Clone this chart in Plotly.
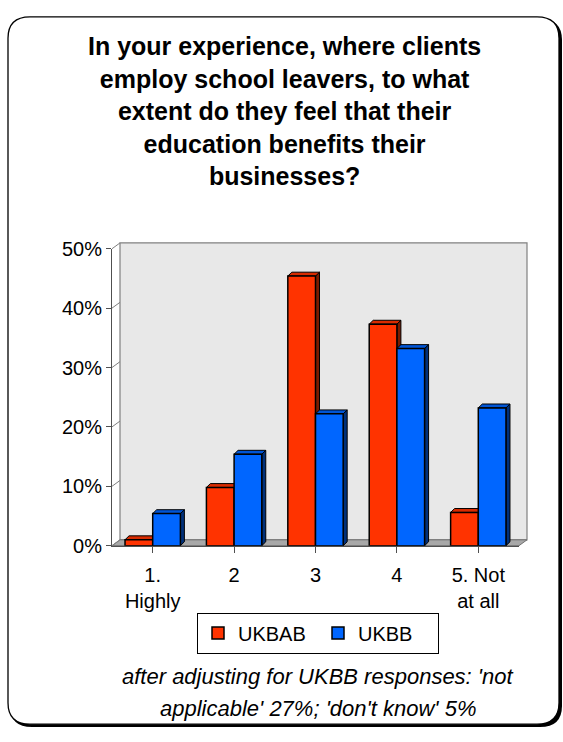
import plotly.graph_objects as go

# ---- data -------------------------------------------------------------
categories = ["1.<br>Highly", "2", "3", "4", "5. Not<br>at all"]
series_names = ["UKBAB", "UKBB"]
ukbab = [1.0, 9.8, 45.4, 37.3, 5.6]
ukbb = [5.4, 15.4, 22.2, 33.2, 23.2]
y_ticks = [0, 10, 20, 30, 40, 50]
y_tick_labels = ["0%", "10%", "20%", "30%", "40%", "50%"]

title_lines = [
    "In your experience, where clients",
    "employ school leavers, to what",
    "extent do they feel that their",
    "education benefits their",
    "businesses?",
]
note_lines = [
    "after adjusting for UKBB responses: 'not",
    "applicable' 27%; 'don't know' 5%",
]

# ---- geometry / style -----------------------------------------------
W, H = 563, 742
FONT = "Arial, Liberation Sans, sans-serif"

front_x = (112, 519)   # px, front plane of the plot box
front_y = (551, 245)   # px for 0 % and 50 %
depth = (8, -6)        # offset of the back wall
bar_depth = 4          # px depth of each bar
bar_w = 0.34           # bar width in category units

colors = {
    "UKBAB": ("#FF3300", "#D92B00", "#7A1C00"),   # front, top, side
    "UKBB": ("#0066FF", "#0055D6", "#00307A"),
}


def fx(px):
    return px / W


def fy(py):
    return 1 - py / H


back_x = (front_x[0] + depth[0], front_x[1] + depth[0])
back_y = (front_y[0] + depth[1], front_y[1] + depth[1])
px_per_unit_y = (front_y[0] - front_y[1]) / 50
px_per_cat = (front_x[1] - front_x[0]) / len(categories)
DX = bar_depth / px_per_cat
DY = bar_depth / px_per_unit_y

fig = go.Figure()

# 3D faces (top and right side) of the bars, drawn behind the front faces
for name, vals, off in [("UKBAB", ukbab, -bar_w), ("UKBB", ukbb, 0.0)]:
    front_c, top_c, side_c = colors[name]
    sx, sy, tx, ty = [], [], [], []
    for i, v in enumerate(vals):
        xl = i + off
        xr = xl + bar_w
        sx += [xr, xr + DX, xr + DX, xr, xr, None]
        sy += [0, DY, v + DY, v, 0, None]
        tx += [xl, xr, xr + DX, xl + DX, xl, None]
        ty += [v, v, v + DY, v + DY, v, None]
    for px_, py_, c in [(sx, sy, side_c), (tx, ty, top_c)]:
        fig.add_trace(go.Scatter(
            x=px_, y=py_, fill="toself", fillcolor=c, mode="lines",
            line=dict(color="black", width=1), showlegend=False,
            hoverinfo="skip", xaxis="x2", yaxis="y2",
        ))

# front faces of the bars
for name, vals, off in [("UKBAB", ukbab, -bar_w), ("UKBB", ukbb, 0.0)]:
    fig.add_trace(go.Bar(
        x=list(range(len(categories))), y=vals, name=name,
        width=bar_w, offset=off,
        marker=dict(color=colors[name][0], line=dict(color="black", width=1.5)),
        xaxis="x3", yaxis="y3",
    ))

# ---- decorative shapes: frame, wall, floor ---------------------------
def rounded_rect(x0, y0, x1, y1, r):
    p = lambda x, y: f"{fx(x):.5f},{fy(y):.5f}"
    return (f"M{p(x0 + r, y0)} L{p(x1 - r, y0)} Q{p(x1, y0)} {p(x1, y0 + r)} "
            f"L{p(x1, y1 - r)} Q{p(x1, y1)} {p(x1 - r, y1)} "
            f"L{p(x0 + r, y1)} Q{p(x0, y1)} {p(x0, y1 - r)} "
            f"L{p(x0, y0 + r)} Q{p(x0, y0)} {p(x0 + r, y0)} Z")


shapes = [
    dict(type="path", xref="paper", yref="paper", layer="below",
         path=rounded_rect(10, 8, 562, 738, 22), fillcolor="black",
         line=dict(width=0)),
    dict(type="path", xref="paper", yref="paper", layer="below",
         path=rounded_rect(8, 6, 559, 735, 22), fillcolor="white",
         line=dict(color="black", width=1.3)),
    dict(type="rect", xref="paper", yref="paper", layer="below",
         x0=fx(back_x[0]), x1=fx(back_x[1]), y0=fy(back_y[0]), y1=fy(back_y[1]),
         fillcolor="#E8E8E8", line=dict(color="#808080", width=1.2)),
    dict(type="path", xref="paper", yref="paper", layer="below",
         path=(f"M{fx(front_x[0])},{fy(front_y[0])} L{fx(front_x[1])},{fy(front_y[0])} "
               f"L{fx(back_x[1])},{fy(back_y[0])} L{fx(back_x[0])},{fy(back_y[0])} Z"),
         fillcolor="#A8A8A8", line=dict(color="#707070", width=1)),
]
# left wall: short slanted lines joining each front tick to its back gridline
for t in y_ticks:
    yf = front_y[0] - t * px_per_unit_y
    yb = back_y[0] - t * px_per_unit_y
    shapes.append(dict(type="line", xref="paper", yref="paper",
                       x0=fx(front_x[0]), y0=fy(yf), x1=fx(back_x[0]), y1=fy(yb),
                       line=dict(color="#808080", width=1)))

# ---- text -------------------------------------------------------------
annotations = [
    dict(text="<br>".join(f"<b>{l}</b>" for l in title_lines),
         xref="paper", yref="paper", x=fx(284), y=fy(20),
         xanchor="center", yanchor="top", showarrow=False,
         font=dict(family=FONT, size=25, color="black")),
]
for line, yy in zip(note_lines, [686, 719]):
    annotations.append(dict(text=f"<i>{line}</i>", xref="paper", yref="paper",
                            x=fx(318), y=fy(yy), xanchor="center",
                            yanchor="middle", showarrow=False,
                            font=dict(family=FONT, size=22, color="black")))

yrange = [0, 50]
xrange = [-0.5, len(categories) - 0.5]

fig.update_layout(
    width=W, height=H, autosize=False,
    margin=dict(l=0, r=0, t=0, b=0),
    paper_bgcolor="white", plot_bgcolor="rgba(0,0,0,0)",
    font=dict(family=FONT, size=20, color="black"),
    shapes=shapes, annotations=annotations,
    showlegend=True,
    legend=dict(orientation="h", x=fx(197), y=fy(620), xanchor="left",
                yanchor="top", bgcolor="white", bordercolor="black",
                borderwidth=1, font=dict(family=FONT, size=20),
                entrywidth=75, itemwidth=30),
    # back wall with gridlines
    xaxis=dict(domain=[fx(back_x[0]), fx(back_x[1])], range=xrange,
               visible=False, fixedrange=True),
    yaxis=dict(domain=[fy(back_y[0]), fy(back_y[1])], range=yrange,
               tickvals=y_ticks, showticklabels=False, ticks="",
               showgrid=True, gridcolor="#808080", gridwidth=1.2,
               zeroline=False, showline=False, fixedrange=True),
    # bar depth faces
    xaxis2=dict(domain=[fx(front_x[0]), fx(front_x[1])], range=xrange,
                visible=False, anchor="y2"),
    yaxis2=dict(domain=[fy(front_y[0]), fy(front_y[1])], range=yrange,
                visible=False, anchor="x2"),
    # front plane: bars and axes
    xaxis3=dict(domain=[fx(front_x[0]), fx(front_x[1])], range=xrange,
                anchor="y3", tickvals=list(range(len(categories))),
                ticktext=categories, tickson="boundaries", ticks="outside",
                ticklen=6, tickcolor="#505050", showline=True,
                linecolor="#505050", linewidth=1, showgrid=False,
                zeroline=False, ticklabelstandoff=5,
                tickfont=dict(family=FONT, size=20)),
    yaxis3=dict(domain=[fy(front_y[0]), fy(front_y[1])], range=yrange,
                anchor="x3", tickmode="array", tickvals=y_ticks,
                ticktext=y_tick_labels,
                ticks="outside", ticklen=5, tickcolor="#505050",
                showline=True, linecolor="#505050", linewidth=1,
                showgrid=False, zeroline=False,
                tickfont=dict(family=FONT, size=20)),
)

fig.write_html("out.html")
